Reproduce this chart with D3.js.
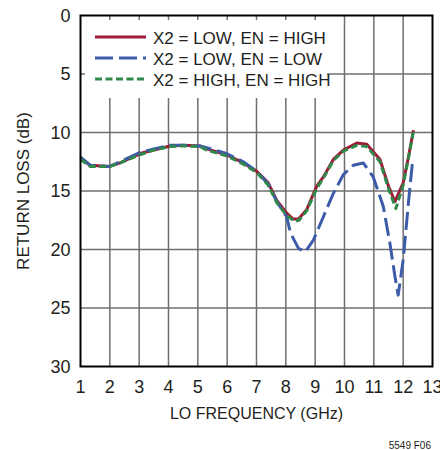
<!DOCTYPE html>
<html>
<head>
<meta charset="utf-8">
<script src="https://cdn.jsdelivr.net/npm/d3@7"></script>
<style>
  body { margin: 0; background: #fff; }
  text { font-family: "Liberation Sans Narrow", "Liberation Sans", Arial, sans-serif; fill: #231f20; }
</style>
</head>
<body>
<svg width="440" height="450"></svg>
<script>
let width = 440;
let height = 450;

let margin = {top: 15.5, right: 7.5, bottom: 83.5, left: 80.5};

// frequency (GHz) and return loss (dB)
let freqRed = [1, 1.33, 2.0, 2.35, 3.03, 3.5, 4.05, 4.5, 5.07, 5.3, 5.98, 6.55, 7.0, 7.4, 7.69, 8.03, 8.25, 8.43, 8.71, 9.05, 9.28, 9.62, 9.96, 10.42, 10.76, 11.21, 11.5, 11.72, 12.0, 12.18, 12.35];
let lossRed = [12.2, 12.8, 12.9, 12.6, 11.8, 11.5, 11.15, 11.1, 11.15, 11.4, 11.9, 12.6, 13.3, 14.3, 15.8, 16.9, 17.4, 17.4, 16.6, 14.6, 13.8, 12.3, 11.5, 10.9, 11.0, 12.3, 14.6, 15.9, 14.3, 12.1, 9.8];

let freqBlue = [1, 1.33, 2.0, 2.35, 3.03, 3.5, 4.05, 4.5, 5.07, 5.3, 5.98, 6.55, 7.0, 7.4, 7.69, 8.03, 8.16, 8.43, 8.66, 8.94, 9.28, 9.62, 9.96, 10.3, 10.64, 10.98, 11.32, 11.55, 11.72, 11.83, 12.0, 12.18, 12.33];
let lossBlue = [12.1, 12.8, 12.9, 12.5, 11.7, 11.4, 11.1, 11.1, 11.15, 11.3, 11.8, 12.5, 13.3, 14.4, 15.9, 17.2, 18.6, 19.9, 20.2, 19.2, 17.2, 15.2, 13.6, 12.8, 12.6, 13.8, 16.3, 19.5, 22.3, 23.9, 20.9, 16.0, 12.2];

let freqGreen = [1, 1.33, 2.0, 2.35, 3.03, 3.5, 4.05, 4.5, 5.07, 5.3, 5.98, 6.55, 7.0, 7.4, 7.69, 8.03, 8.3, 8.45, 8.71, 9.05, 9.28, 9.62, 9.96, 10.42, 10.76, 11.21, 11.5, 11.75, 12.0, 12.18, 12.35];
let lossGreen = [12.3, 12.9, 12.9, 12.6, 11.9, 11.5, 11.2, 11.15, 11.2, 11.5, 12.0, 12.7, 13.4, 14.5, 16.0, 17.1, 17.6, 17.5, 16.7, 14.8, 13.9, 12.4, 11.6, 11.1, 11.2, 12.5, 14.8, 16.5, 14.5, 12.2, 9.9];

let series = ["X2 = LOW, EN = HIGH", "X2 = LOW, EN = LOW", "X2 = HIGH, EN = HIGH"];
let xTicks = [1, 2, 3, 4, 5, 6, 7, 8, 9, 10, 11, 12, 13];
let yTicks = [0, 5, 10, 15, 20, 25, 30];

let svg = d3.select("svg");

let x = d3.scaleLinear()
    .domain([1, 13])
    .range([margin.left, width - margin.right]);

let y = d3.scaleLinear()
    .domain([0, 30])
    .range([margin.top, height - margin.bottom]);

// grid
svg.append("g")
    .selectAll("line")
    .data(xTicks.slice(1, -1))
    .join("line")
    .attr("x1", d => x(d)).attr("x2", d => x(d))
    .attr("y1", y(0)).attr("y2", y(30))
    .style("stroke", "#6f6f6f")
    .style("stroke-width", "1.5px");

svg.append("g")
    .selectAll("line")
    .data(yTicks.slice(1, -1))
    .join("line")
    .attr("x1", x(1)).attr("x2", x(13))
    .attr("y1", d => y(d)).attr("y2", d => y(d))
    .style("stroke", "#6f6f6f")
    .style("stroke-width", "1.5px");

// tick labels
svg.append("g")
    .selectAll("text")
    .data(xTicks)
    .join("text")
    .attr("x", d => x(d))
    .attr("y", y(30) + 26)
    .attr("text-anchor", "middle")
    .style("font-size", "18px")
    .text(d => d);

svg.append("g")
    .selectAll("text")
    .data(yTicks)
    .join("text")
    .attr("x", x(1) - 10)
    .attr("y", d => y(d) + 6)
    .attr("text-anchor", "end")
    .style("font-size", "18px")
    .text(d => d);

// axis titles
svg.append("text")
    .attr("x", (x(1) + x(13)) / 2)
    .attr("y", 419)
    .attr("text-anchor", "middle")
    .style("font-size", "16px")
    .text("LO FREQUENCY (GHz)");

svg.append("text")
    .attr("transform", `translate(29,${(y(0) + y(30)) / 2}) rotate(-90)`)
    .attr("text-anchor", "middle")
    .style("font-size", "17px")
    .text("RETURN LOSS (dB)");

svg.append("text")
    .attr("x", 431)
    .attr("y", 449)
    .attr("text-anchor", "end")
    .style("font-size", "10px")
    .text("5549 F06");

// legend box covers the grid
svg.append("rect")
    .attr("x", 85).attr("y", 20)
    .attr("width", 242).attr("height", 78)
    .style("fill", "#fff");

let line = d3.line()
    .x(d => x(d[0]))
    .y(d => y(d[1]))
    .curve(d3.curveLinear);

let styles = [
    {color: "#9e1a36", dash: null, w: 3},
    {color: "#3c5ba8", dash: "18,6", w: 3},
    {color: "#2f8a4a", dash: "7,3.5", w: 3}
];

let data = [
    d3.zip(freqRed, lossRed),
    d3.zip(freqBlue, lossBlue),
    d3.zip(freqGreen, lossGreen)
];

svg.append("g")
    .selectAll("path")
    .data(data)
    .join("path")
    .attr("d", d => line(d))
    .style("fill", "none")
    .style("stroke", (d, i) => styles[i].color)
    .style("stroke-width", (d, i) => styles[i].w + "px")
    .style("stroke-dasharray", (d, i) => styles[i].dash)
    .style("stroke-linejoin", "round");

// legend
let legend = svg.append("g")
    .selectAll("g")
    .data(series)
    .join("g")
    .attr("transform", (d, i) => `translate(95,${37 + i * 21})`);

legend.append("line")
    .attr("x1", 0).attr("x2", 51)
    .style("stroke", (d, i) => styles[i].color)
    .style("stroke-width", "3px")
    .style("stroke-dasharray", (d, i) => styles[i].dash);

legend.append("text")
    .attr("x", 58)
    .attr("y", 6.5)
    .style("font-size", "17px")
    .text(d => d);

// frame
svg.append("rect")
    .attr("x", x(1)).attr("y", y(0))
    .attr("width", x(13) - x(1)).attr("height", y(30) - y(0))
    .style("fill", "none")
    .style("stroke", "#000")
    .style("stroke-width", "2px");
</script>
</body>
</html>
